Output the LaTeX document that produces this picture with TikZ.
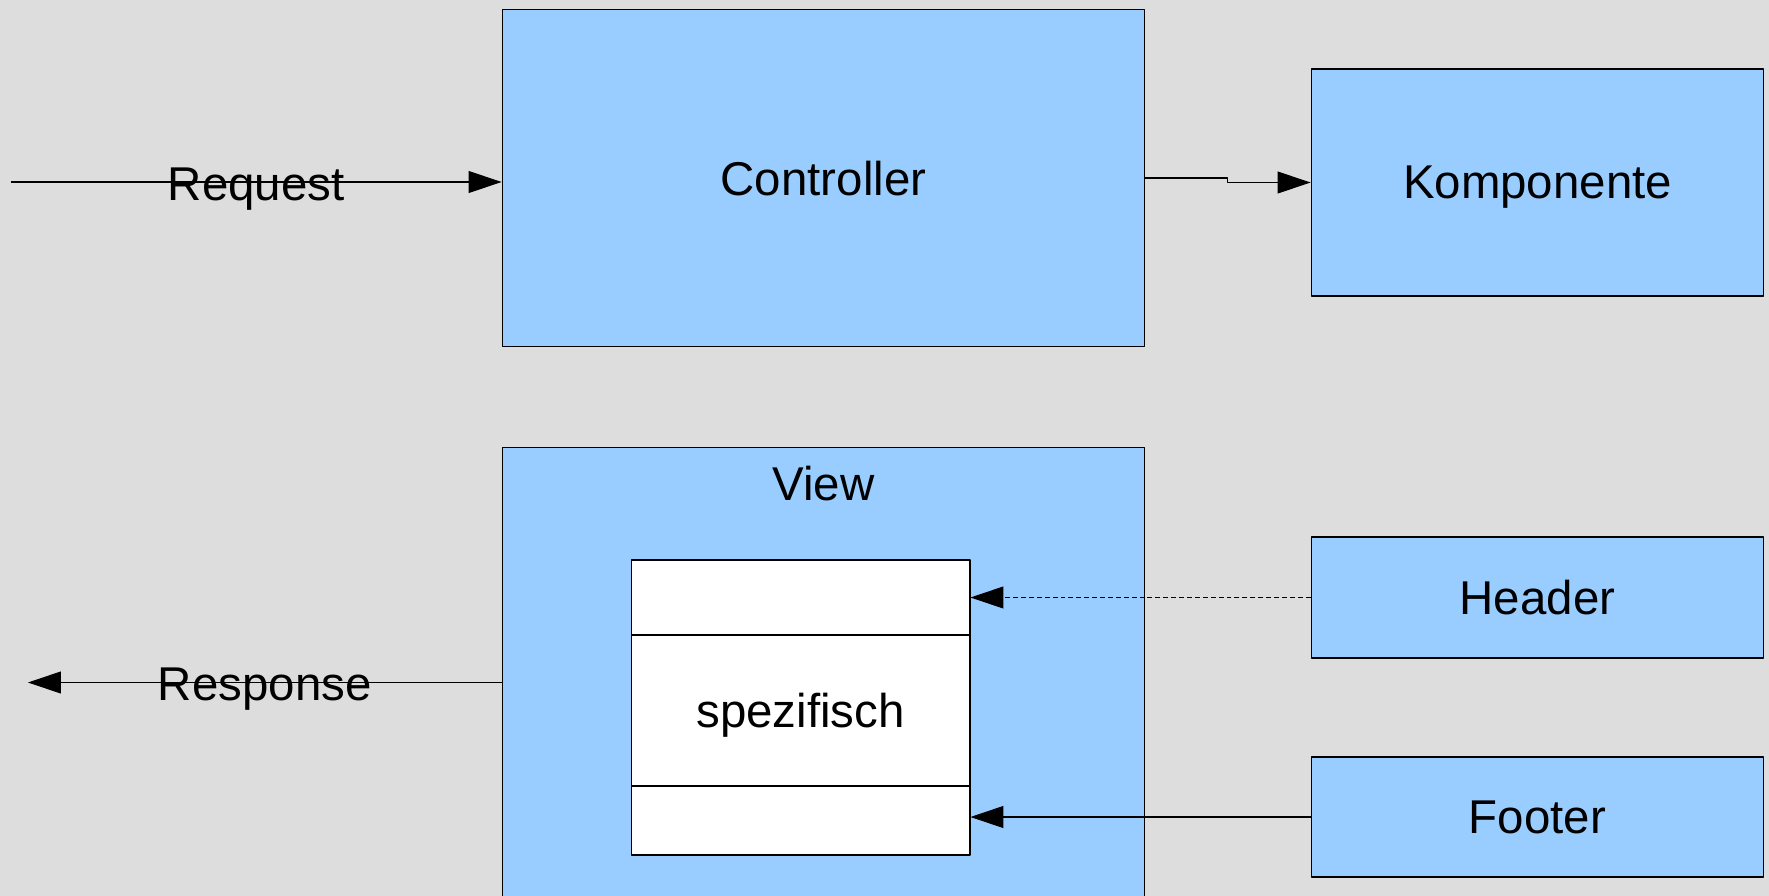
\documentclass[tikz,border=0pt]{standalone}
\usepackage{fontspec}
\setmainfont{Liberation Sans}
\usepackage{xcolor}
\usetikzlibrary{arrows.meta}

\definecolor{bggray}{RGB}{221,221,221}
\definecolor{boxblue}{RGB}{153,204,255}
\tikzset{
	txt/.style={font=\fontsize{27}{32}\selectfont,text depth=0pt},
	box/.style={txt,draw=black,line width=0.6pt,fill=boxblue,inner sep=0pt},
	slot/.style={txt,draw=black,line width=0.6pt,fill=white,inner sep=0pt,minimum width=6.78cm},
	lbl/.style={txt,inner sep=0pt},
	conn/.style={line width=0.6pt,->},
}

\begin{document}
\begin{tikzpicture}[line join=round,>={Triangle[length=0.66cm,width=0.44cm]},x=0.02cm,y=-0.02cm]
		\clip (0,0) rectangle (1769,896);
		\fill[bggray] (0,0) rectangle (1769,896);
		% boxes
		\node[box,minimum width=12.86cm,minimum height=6.76cm] (ctrl) at (823.5,178) {Controller};
		\node[box,minimum width=9.06cm,minimum height=4.54cm] (komp) at (1537.5,182.5) {Komponente};
		\node[box,minimum width=12.86cm,minimum height=9.46cm] (view) at (823.5,683.5) {};
		\node[lbl] (viewlbl) at (823.5,483) {View};
		\node[slot,minimum height=1.5cm] (slottop) at (800.5,597.5) {};
		\node[slot,minimum height=3.02cm] (slotmid) at (800.5,710.5) {spezifisch};
		\node[slot,minimum height=1.38cm] (slotbot) at (800.5,820.5) {};
		\node[box,minimum width=9.06cm,minimum height=2.42cm] (header) at (1537.5,597.5) {Header};
		\node[box,minimum width=9.06cm,minimum height=2.4cm] (footer) at (1537.5,817) {Footer};
		% connectors
		\coordinate (reqin) at (11,182);
		\coordinate (respout) at (28,682.5);
		\draw[conn] (reqin) -- (reqin -| ctrl.west) node[lbl,midway,anchor=base,yshift=-0.36cm] (reqlbl) {Request};
		\draw[conn] (view.west |- respout) -- (respout) node[lbl,midway,anchor=base,yshift=-0.36cm] (resplbl) {Response};
		\draw[conn] (ctrl.east) -- ++(82,0) |- (komp.west);
		\draw[conn,dash pattern=on 2.8pt off 1.7pt] (header.west) -- (header.west -| slottop.east);
		\draw[conn] (footer.west) -- (footer.west -| slotbot.east);
	\end{tikzpicture}
\end{document}
